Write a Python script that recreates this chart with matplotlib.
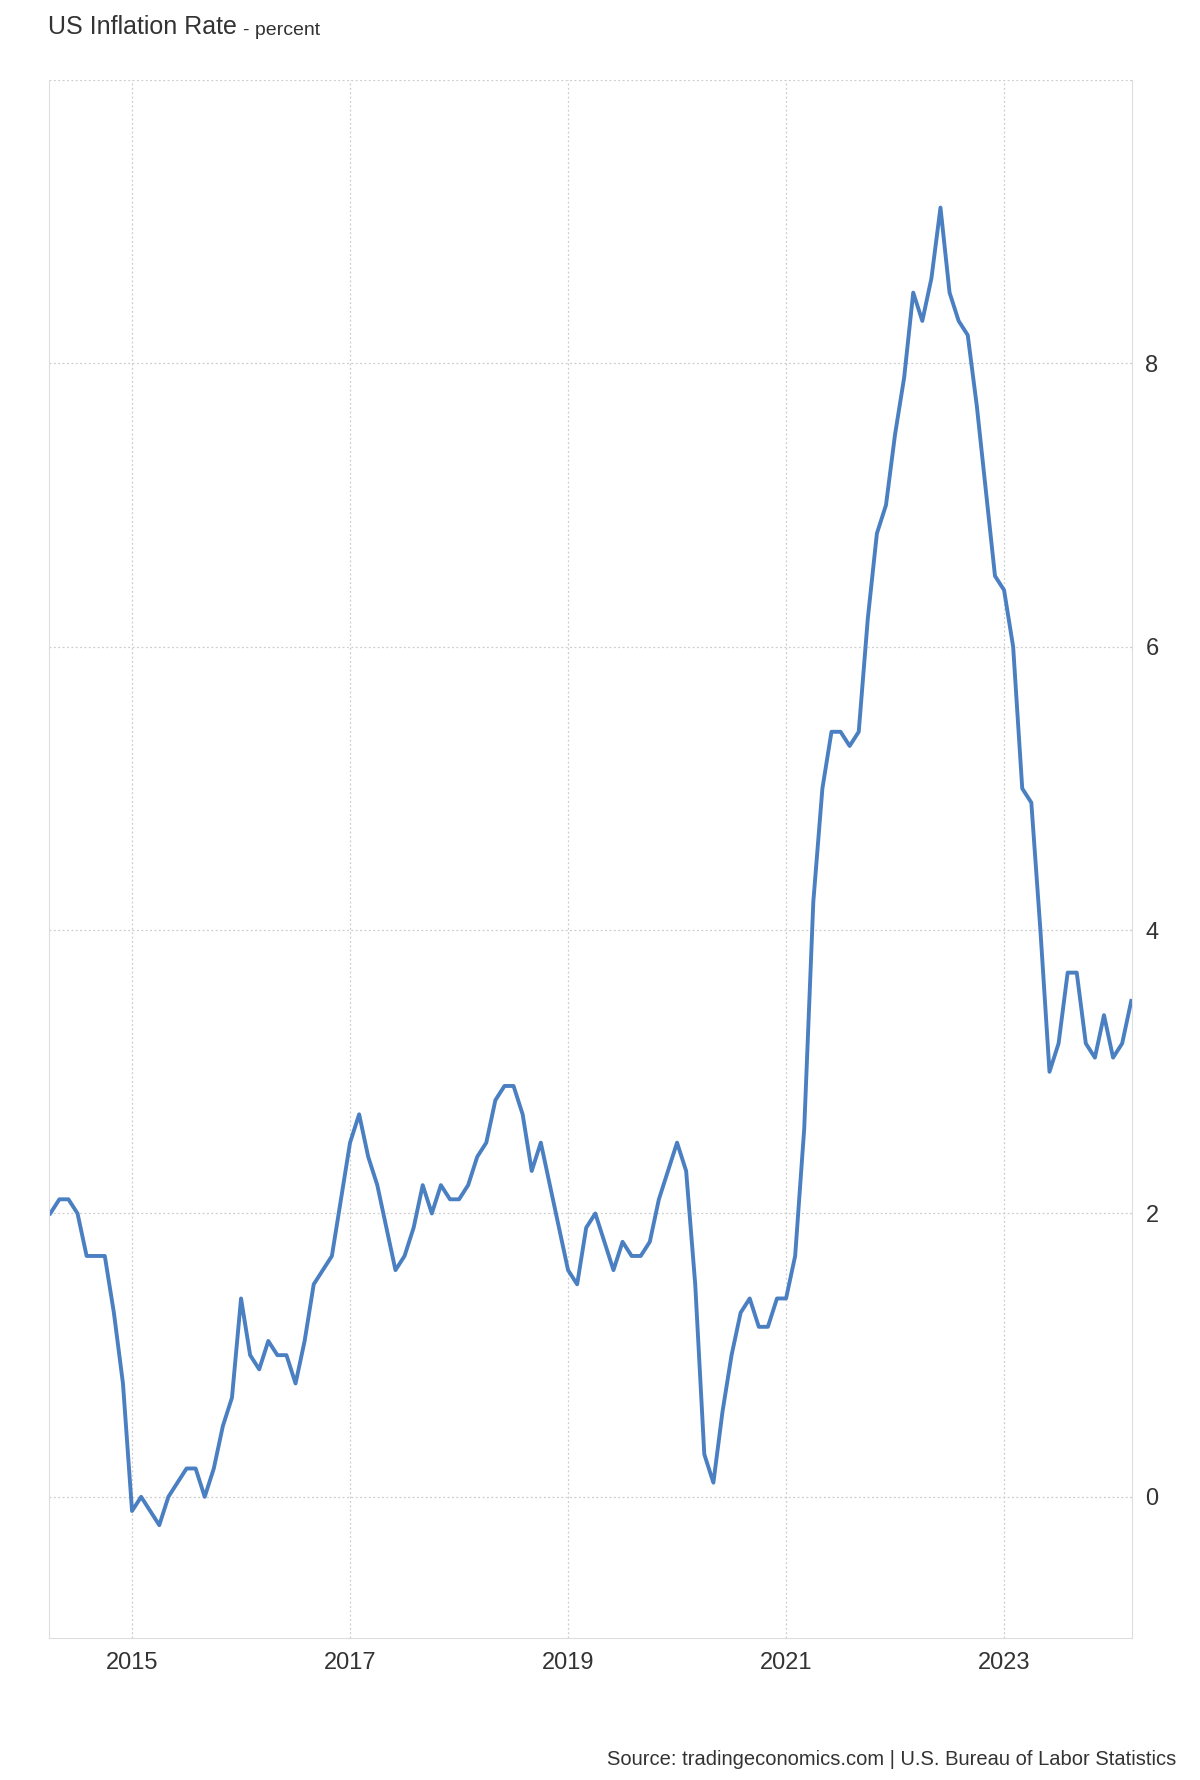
import matplotlib
matplotlib.use("Agg")
import matplotlib.pyplot as plt
import numpy as np

plt.rcParams['font.family'] = ['Liberation Sans', 'DejaVu Sans']

start_year, start_month = 2014, 4
values = [2.0, 2.1, 2.1, 2.0, 1.7, 1.7, 1.7, 1.3, 0.8,
          -0.1, 0.0, -0.1, -0.2, 0.0, 0.1, 0.2, 0.2, 0.0, 0.2, 0.5, 0.7,
          1.4, 1.0, 0.9, 1.1, 1.0, 1.0, 0.8, 1.1, 1.5, 1.6, 1.7, 2.1,
          2.5, 2.7, 2.4, 2.2, 1.9, 1.6, 1.7, 1.9, 2.2, 2.0, 2.2, 2.1,
          2.1, 2.2, 2.4, 2.5, 2.8, 2.9, 2.9, 2.7, 2.3, 2.5, 2.2, 1.9,
          1.6, 1.5, 1.9, 2.0, 1.8, 1.6, 1.8, 1.7, 1.7, 1.8, 2.1, 2.3,
          2.5, 2.3, 1.5, 0.3, 0.1, 0.6, 1.0, 1.3, 1.4, 1.2, 1.2, 1.4,
          1.4, 1.7, 2.6, 4.2, 5.0, 5.4, 5.4, 5.3, 5.4, 6.2, 6.8, 7.0,
          7.5, 7.9, 8.5, 8.3, 8.6, 9.1, 8.5, 8.3, 8.2, 7.7, 7.1, 6.5,
          6.4, 6.0, 5.0, 4.9, 4.0, 3.0, 3.2, 3.7, 3.7, 3.2, 3.1, 3.4,
          3.1, 3.2, 3.5]
x_ticks = [2015, 2017, 2019, 2021, 2023]
y_ticks = [0, 2, 4, 6, 8]

t = np.array([start_year + (start_month - 1 + i) / 12 for i in range(len(values))])

fig = plt.figure(figsize=(12, 17.8), dpi=100)
ax = fig.add_axes([0.041, 0.0795, 0.902, 0.8755])
ax.plot(t, values, color="#4a7fc1", lw=2.8, solid_joinstyle="round")
ax.set_xlim(2014.24, 2024.17)
ax.set_ylim(-1.0, 10.0)
ax.set_xticks(x_ticks)
ax.set_xticklabels([str(v) for v in x_ticks], fontsize=17, color="#333333")
ax.set_yticks(y_ticks)
ax.set_yticklabels([str(v) for v in y_ticks], fontsize=17, color="#333333")
ax.yaxis.tick_right()
ax.tick_params(length=0, pad=10)
ax.grid(True, color="#cccccc", linestyle=(0, (1.5, 2)), lw=0.9)
ax.axhline(10, color="#cccccc", linestyle=(0, (1.5, 2)), lw=0.9)
ax.spines["top"].set_visible(False)
for s in ["left", "right", "bottom"]:
    ax.spines[s].set_color("#dddddd")
title = fig.text(0.04, 0.978, "US Inflation Rate", fontsize=18, color="#333333", va="bottom")
fig.canvas.draw()
bb = title.get_window_extent()
fig.text((bb.x1 + 6) / fig.bbox.width, 0.978, "- percent", fontsize=14, color="#333333", va="bottom")
fig.text(0.98, 0.006, "Source: tradingeconomics.com | U.S. Bureau of Labor Statistics",
         fontsize=14.5, color="#333333", ha="right", va="bottom")
fig.savefig("out.png", dpi=100)
